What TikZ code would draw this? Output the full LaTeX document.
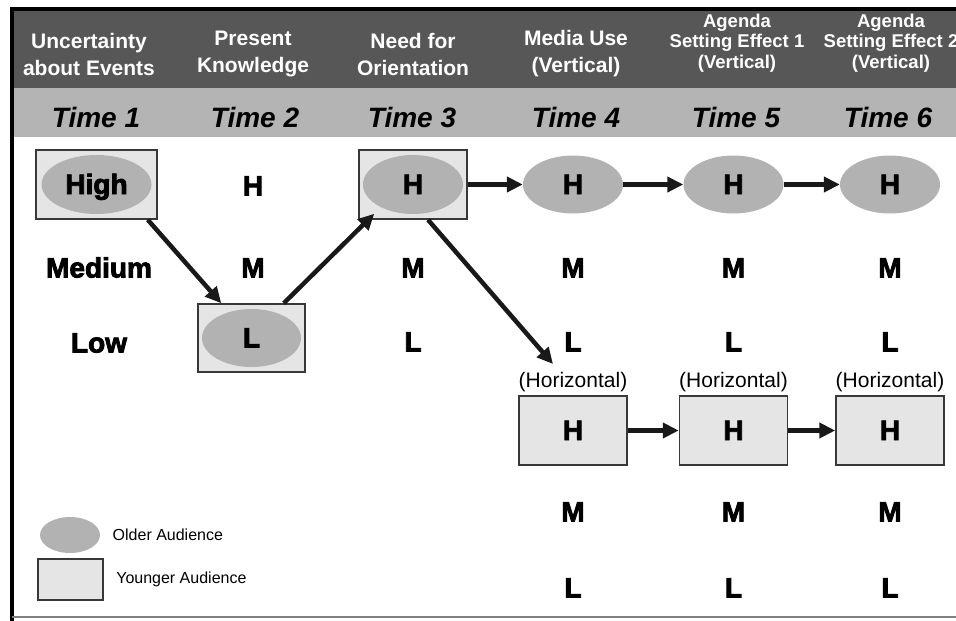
\documentclass[tikz,border=0pt]{standalone}
\usepackage{fontspec}
\setmainfont{Liberation Sans}
\newfontfamily\heavyfont[FakeBold=3]{Liberation Sans Bold}
\usetikzlibrary{shapes.geometric,arrows.meta,positioning}
\definecolor{headdark}{HTML}{575757}
\definecolor{headlight}{HTML}{B4B4B4}
\definecolor{ovalgray}{HTML}{B2B2B2}
\definecolor{boxgray}{HTML}{E5E5E5}
\definecolor{edgegray}{HTML}{383838}

\begin{document}
\begin{tikzpicture}[x=1pt,y=-1pt,
  oval/.style={ellipse,fill=ovalgray,inner sep=0pt,minimum width=100pt,minimum height=58pt},
  younger/.style={rectangle,draw=edgegray,line width=1.5pt,fill=boxgray,inner sep=0pt,minimum width=108pt,minimum height=69pt},
  lvl/.style={font=\heavyfont\fontsize{28}{28}\selectfont,text height=19pt,text depth=0pt},
  head/.style={text=white,font=\bfseries\fontsize{21}{27}\selectfont,align=center},
  headsm/.style={text=white,font=\bfseries\fontsize{18.5}{20.5}\selectfont,align=center},
  timelbl/.style={font=\bfseries\itshape\fontsize{28}{28}\selectfont},
  hz/.style={font=\fontsize{21}{21}\selectfont,inner sep=0pt},
  flow/.style={line width=4.5pt,draw=black!90,-{Triangle[length=16pt,width=15pt]}},
  legend/.style={font=\fontsize{16}{16}\selectfont}]
\useasboundingbox (0,0) rectangle (956,621);
% header bands and frame
\fill[headdark] (12,11) rectangle (956,88);
\fill[headlight] (12,88) rectangle (956,137);
\draw[line width=4pt] (12,7) -- (12,621);
\draw[line width=4pt] (10,9) -- (956,9);
\draw[gray,line width=1.5pt] (12,617) -- (956,617);

\node[head] (h1) at (89,54) {Uncertainty\\about Events};
\node[head] (h2) at (253,54) {Present\\Knowledge};
\node[head] (h3) at (413,54) {Need for\\Orientation};
\node[head] (h4) at (576,54) {Media Use\\(Vertical)};
\node[headsm] (h5) at (737,43) {Agenda\\Setting Effect 1\\(Vertical)};
\node[headsm] (h6) at (891,43) {Agenda\\Setting Effect 2\\(Vertical)};
\foreach \x/\n in {96/1,255/2,412/3,576/4,736/5,888/6}
  \node[timelbl] (time\n) at (\x,117) {Time \n};

% time 1 to 3
\node[younger,minimum width=121pt] (t1box) at (96.5,184.5) {};
\node[oval,lvl,minimum width=110pt,minimum height=59pt] (t1) at (96.5,184.5) {High};
\node[lvl] (t1m) at (99,268) {Medium};
\node[lvl] (t1l) at (99,343) {Low};
\node[lvl] (t2h) at (253,186) {H};
\node[lvl] (t2m) at (253,268) {M};
\node[younger,minimum width=107pt,minimum height=68pt] (t2box) at (251.5,338) {};
\node[oval,lvl,minimum width=99pt] (t2) at (251.5,338) {L};
\node[younger] (t3box) at (413,184.5) {};
\node[oval,lvl,minimum height=59pt] (t3) at (413,184.5) {H};
\node[lvl] (t3m) at (413,268) {M};
\node[lvl] (t3l) at (413,342) {L};

% time 4 to 6
\foreach \c/\x in {4/573,5/733.5,6/890}{
  \node[oval,lvl] (o\c) at (\x,184.5) {H};
  \node[lvl] (mv\c) at (\x,268) {M};
  \node[lvl] (lv\c) at (\x,342) {L};
  \node[hz] (hz\c) at (\x,382) {(Horizontal)};
  \node[younger,lvl] (y\c) at (\x,430.5) {H};
  \node[lvl] (mh\c) at (\x,512) {M};
  \node[lvl] (lh\c) at (\x,588) {L};
}

\draw[flow] ([xshift=-10pt]t1box.south east) -- ([xshift=24pt]t2box.north west);
\draw[flow] ([xshift=-22pt]t2box.north east) -- ([xshift=16pt,yshift=6pt]t3box.south west);
\draw[flow] ([xshift=15pt]t3box.south) -- ([xshift=-20pt,yshift=8pt]hz4.north);
\draw[flow] (t3box) -- (o4);
\draw[flow] (o4) -- (o5);
\draw[flow] (o5) -- (o6);
\draw[flow] (y4) -- (y5);
\draw[flow] (y5) -- (y6);

% legend
\node[oval,minimum width=60pt,minimum height=36pt] (lgold) at (70,535) {};
\node[younger,minimum width=65pt,minimum height=41pt] (lgyoung) at (70.5,579.5) {};
\node[legend,right=9pt of lgold] (lgoldtxt) {Older Audience};
\node[legend,right=9pt of lgyoung] (lgyoungtxt) {Younger Audience};
\end{tikzpicture}
\end{document}
